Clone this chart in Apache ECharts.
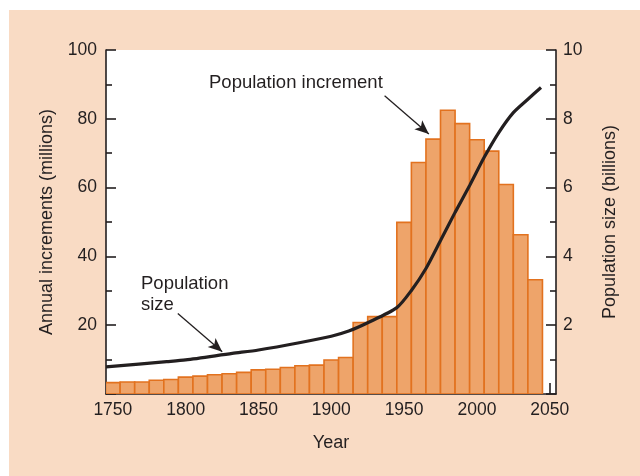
<!DOCTYPE html>
<html>
<head>
<meta charset="utf-8">
<script src="https://cdn.jsdelivr.net/npm/echarts@6/dist/echarts.min.js"></script>
<style>
html,body{margin:0;padding:0;background:#fff;}
#chart{width:640px;height:476px;}
</style>
</head>
<body>
<div id="chart"></div>
<script>
// Bar data: annual increments (millions), decade bars centred on these years
const barYears = [1750,1760,1770,1780,1790,1800,1810,1820,1830,1840,1850,1860,1870,1880,1890,1900,1910,1920,1930,1940,1950,1960,1970,1980,1990,2000,2010,2020,2030,2040];
const increments = [3.3,3.5,3.5,4.0,4.2,4.9,5.2,5.6,5.9,6.3,7.0,7.2,7.7,8.2,8.4,9.9,10.6,20.8,22.5,22.5,49.9,67.3,74.1,82.5,78.6,73.9,70.6,60.9,46.3,33.2];

// Population size line (billions)
const popYears = [1745.3,1787,1800,1832,1850,1878,1900,1912,1925,1945,1955,1965,1975,1985,1995,2005,2015,2025,2035,2044];
const popSize  = [0.79,0.94,0.99,1.18,1.28,1.49,1.68,1.83,2.07,2.51,3.01,3.65,4.46,5.28,6.06,6.88,7.60,8.18,8.57,8.91];

// Axis ticks
const xTicks = [1750,1800,1850,1900,1950,2000,2050];

const FONT = "'Liberation Sans', Arial, Helvetica, sans-serif";
const INK = '#231f20';

const chart = echarts.init(document.getElementById('chart'), null, {renderer:'canvas'});

const barData = barYears.map((y,i)=>[y, increments[i]]);
const lineData = popYears.map((y,i)=>[y, popSize[i]]);

const option = {
  animation: false,
  textStyle: {fontFamily: FONT, color: INK},
  graphic: [
    {type:'rect', z:-100, zlevel:0, silent:true, shape:{x:9,y:10,width:631,height:466}, style:{fill:'#f9dbc4'}},
    {type:'text', z:100, style:{text:'Population increment', x:209, y:83, fill:INK, font:'18.5px ' + FONT, verticalAlign:'middle', align:'left'}},
    {type:'text', z:100, style:{text:'Population', x:141, y:284, fill:INK, font:'18.5px ' + FONT, verticalAlign:'middle', align:'left'}},
    {type:'text', z:100, style:{text:'size', x:141, y:305, fill:INK, font:'18.5px ' + FONT, verticalAlign:'middle', align:'left'}}
  ],
  grid: {left:106, right:84, top:50, bottom:82, show:true, backgroundColor:'#ffffff', borderWidth:0},
  xAxis: {
    type:'value', min:1745.3, max:2054.3,
    name:'Year', nameLocation:'middle', nameGap:40,
    nameTextStyle:{fontSize:18, color:INK, fontFamily:FONT},
    axisLine:{show:true, onZero:false, lineStyle:{color:INK, width:1.6}},
    axisTick:{show:true, inside:true, length:11, customValues:xTicks, lineStyle:{color:INK, width:1.6}},
    axisLabel:{customValues:xTicks, fontSize:17.5, color:INK, margin:7, fontFamily:FONT, formatter:v=>String(v)},
    splitLine:{show:false}
  },
  yAxis: [
    {
      type:'value', min:0, max:100, interval:20, position:'left',
      name:'Annual increments (millions)', nameLocation:'middle', nameGap:50,
      nameTextStyle:{fontSize:18, color:INK, fontFamily:FONT},
      axisLine:{show:true, lineStyle:{color:INK, width:1.6}},
      axisTick:{show:true, inside:true, length:10, lineStyle:{color:INK, width:1.6}},
      minorTick:{show:true, splitNumber:2, length:6, lineStyle:{color:INK, width:1.6}},
      axisLabel:{fontSize:17.5, color:INK, margin:9, fontFamily:FONT, formatter:v=> v===0 ? '' : String(v)},
      splitLine:{show:false}
    },
    {
      type:'value', min:0, max:10, interval:2, position:'right',
      name:'Population size (billions)', nameLocation:'middle', nameGap:45,
      nameTextStyle:{fontSize:18, color:INK, fontFamily:FONT},
      axisLine:{show:true, lineStyle:{color:INK, width:1.6}},
      axisTick:{show:true, inside:true, length:10, lineStyle:{color:INK, width:1.6}},
      minorTick:{show:true, splitNumber:2, length:6, lineStyle:{color:INK, width:1.6}},
      axisLabel:{fontSize:17.5, color:INK, margin:7, fontFamily:FONT, formatter:v=> v===0 ? '' : String(v)},
      splitLine:{show:false}
    }
  ],
  series: [
    {
      type:'custom', name:'Population increment', xAxisIndex:0, yAxisIndex:0,
      data: barData, clip:true,
      renderItem: function(params, api){
        const x = api.value(0), v = api.value(1);
        const p0 = api.coord([x-5, v]);
        const p1 = api.coord([x+5, 0]);
        return {
          type:'rect',
          shape:{x:p0[0], y:p0[1], width:p1[0]-p0[0], height:p1[1]-p0[1]},
          style:{fill:'#eea46a', stroke:'#e2721f', lineWidth:1.6}
        };
      }
    },
    {
      type:'line', name:'Population size', xAxisIndex:0, yAxisIndex:1,
      data: lineData, symbol:'none', smooth:0.25, z:5,
      lineStyle:{color:INK, width:3.2},
      markLine:{
        silent:true, animation:false,
        symbol:['none','arrow'], symbolSize:[9,14],
        label:{show:false},
        lineStyle:{color:INK, width:1.3, type:'solid'},
        data:[
          [{coord:[1936.6, 8.67]}, {coord:[1967.0, 7.56]}],
          [{coord:[1794.6, 2.34]}, {coord:[1825.1, 1.23]}]
        ]
      }
    }
  ]
};
chart.setOption(option);
</script>
</body>
</html>
